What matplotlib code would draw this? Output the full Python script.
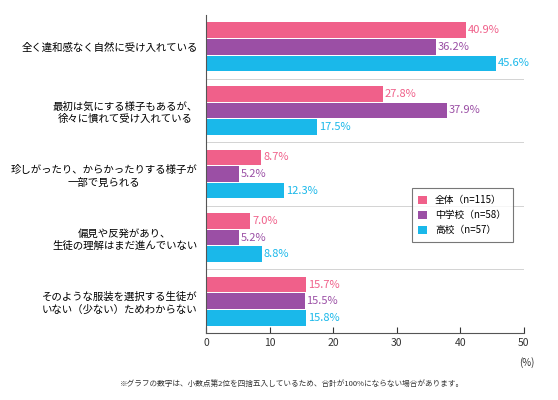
import matplotlib.pyplot as plt
import numpy as np

plt.rcParams["font.family"] = ["Noto Sans CJK JP", "DejaVu Sans"]

categories = [
    "全く違和感なく自然に受け入れている",
    "最初は気にする様子もあるが、\n徐々に慣れて受け入れている",
    "珍しがったり、からかったりする様子が\n一部で見られる",
    "偏見や反発があり、\n生徒の理解はまだ進んでいない",
    "そのような服装を選択する生徒が\nいない（少ない）ためわからない",
]
series_names = ["全体（n=115）", "中学校（n=58）", "高校（n=57）"]
total = [40.9, 27.8, 8.7, 7.0, 15.7]
junior = [36.2, 37.9, 5.2, 5.2, 15.5]
senior = [45.6, 17.5, 12.3, 8.8, 15.8]
colors = ["#f0608a", "#9b4fa5", "#1ab8ea"]

fig = plt.figure(figsize=(5.58, 4), dpi=100)
ax = fig.add_axes([0.369, 0.1675, 0.57, 0.795])

y = np.arange(len(categories))
h = 0.26
for k, (vals, c, name) in enumerate(zip([total, junior, senior], colors, series_names)):
    pos = y + (k - 1) * h
    ax.barh(pos, vals, height=h * 0.94, color=c, label=name)
    for p, v in zip(pos, vals):
        ax.text(v + 0.3, p, f"{v:.1f}%", va="center", ha="left", fontsize=8, color=c)

for b in y[:-1] + 0.5:
    ax.axhline(b, color="#cccccc", lw=0.6)

ax.set_ylim(len(categories) - 0.5, -0.5)
ax.set_xlim(0, 50)
ax.set_xticks([0, 10, 20, 30, 40, 50])
ax.tick_params(axis="x", direction="in", labelsize=7.5, colors="#333333", length=4)
ax.set_yticks(y)
ax.set_yticklabels(categories, fontsize=7.5, linespacing=1.3, multialignment="center")
ax.tick_params(axis="y", length=0, pad=6)
for s in ["top", "right"]:
    ax.spines[s].set_visible(False)
for s in ["left", "bottom"]:
    ax.spines[s].set_color("#555555")
    ax.spines[s].set_linewidth(0.8)

leg = ax.legend(loc="upper right", bbox_to_anchor=(0.98, 0.47), fontsize=7,
                frameon=True, fancybox=False, edgecolor="#555555",
                handlelength=0.9, handleheight=0.9, borderpad=0.7, labelspacing=0.5)
leg.get_frame().set_linewidth(0.8)

fig.text(0.945, 0.085, "(%)", fontsize=7, color="#333333", ha="center")
fig.text(0.215, 0.035, "※グラフの数字は、小数点第2位を四捨五入しているため、合計が100%にならない場合があります。",
         fontsize=5.5, color="#333333")

fig.savefig("out.png", dpi=100)
